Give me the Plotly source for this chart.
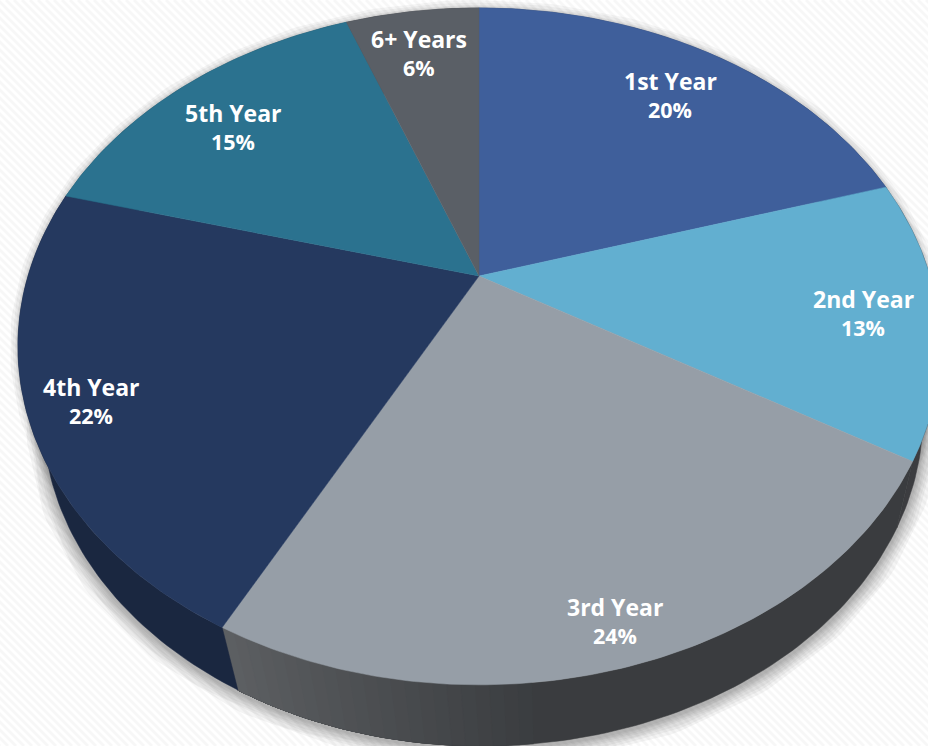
import numpy as np
import plotly.graph_objects as go

categories = ["1st Year", "2nd Year", "3rd Year", "4th Year", "5th Year", "6+ Years"]
values = [20.3, 13.25, 24.14, 21.5, 15.1, 5.71]
percent_labels = ["20%", "13%", "24%", "22%", "15%", "6%"]

top_colors = ["#3F5F9B", "#62AFD0", "#969EA7", "#25395F", "#2B728F", "#5A5F66"]
wall_colors = ["#2b4068", "#3c3d40", "#3A3C3F", "#1A2740", "#1c4c60", "#3c4045"]

W, H = 928, 746
K = 0.208            # perspective of the tilted disc
TOP = dict(cx=479.0, ax=451.0, by=323.8, cy=276.0)
LOW = dict(cx=483.0, ax=430.4, by=316.0, cy=347.0)
LOW_TURN = np.radians(0.0)
label_anchor = [(670, 96), (863, 314), (615, 622), (91, 402), (233, 128), (419, 54)]


def rim(theta, p):
    s, c = np.sin(theta), np.cos(theta)
    d = 1 + K * c
    return p["cx"] + p["ax"] * s / d, p["cy"] - p["by"] * c / d


def poly(x, y, color):
    return go.Scatter(x=list(x), y=list(y), mode="lines", fill="toself", fillcolor=color,
                      line=dict(color=color, width=0.5), hoverinfo="skip", showlegend=False)


def wall(a, b, color):
    t = np.linspace(a, b, max(4, int(np.degrees(b - a))))
    x1, y1 = rim(t, TOP)
    x2, y2 = rim(t[::-1] + LOW_TURN, LOW)
    return poly(np.r_[x1, x2, x1[0]], np.r_[y1, y2, y1[0]], color)


def mix(a, b, t):
    ca = [int(a[i:i + 2], 16) for i in (1, 3, 5)]
    cb = [int(b[i:i + 2], 16) for i in (1, 3, 5)]
    return "rgb(%d,%d,%d)" % tuple(round(u + (v - u) * t) for u, v in zip(ca, cb))


fig = go.Figure()

# striped page background
hx, hy = [], []
for x0 in np.arange(-H, W + 8, 8.0):
    hx += [x0, x0 + H, None]
    hy += [0, H, None]
fig.add_trace(go.Scatter(x=hx, y=hy, mode="lines", line=dict(color="#f7f7f7", width=2.8),
                         hoverinfo="skip", showlegend=False))

# soft shadow
circle = np.linspace(0, 2 * np.pi, 361)
lx, ly = rim(circle + LOW_TURN, LOW)
ux, uy = rim(circle, TOP)
for w in [34, 28, 23, 18, 14, 10, 7, 4]:
    fig.add_trace(go.Scatter(x=lx, y=ly + 2, mode="lines", line=dict(color="rgba(60,60,60,0.055)", width=w),
                             hoverinfo="skip", showlegend=False))
for w in [16, 11, 6, 4, 2]:
    fig.add_trace(go.Scatter(x=ux, y=uy, mode="lines", line=dict(color="rgba(60,60,60,0.05)", width=w),
                             hoverinfo="skip", showlegend=False))

edges = np.concatenate([[0], np.cumsum(values)]) / np.sum(values) * 2 * np.pi

# side walls; the 3rd slice's wall brightens towards its end, painted as overlapping layers
for i in range(len(values)):
    a, b = edges[i], edges[i + 1]
    fig.add_trace(wall(a, b, wall_colors[i]))
    if i == 2:
        start = a + 0.62 * (b - a)
        steps = np.linspace(start, b, 24)[:-1]
        for j, t0 in enumerate(steps):
            fig.add_trace(wall(t0, b, mix("#3A3C3F", "#5C5F62", (j + 1) / len(steps))))

# top faces
apex_x, apex_y = TOP["cx"], TOP["cy"]
for i in range(len(values)):
    t = np.linspace(edges[i], edges[i + 1], 120)
    x, y = rim(t, TOP)
    fig.add_trace(poly(np.r_[apex_x, x, apex_x], np.r_[apex_y, y, apex_y], top_colors[i]))

for cat, pct, (ax_, ay_) in zip(categories, percent_labels, label_anchor):
    fig.add_annotation(x=ax_, y=ay_ - 15, xref="x", yref="y", showarrow=False, align="center",
                       text=f"<b>{cat}</b>", font=dict(family="Open Sans", size=23, color="white"))
    fig.add_annotation(x=ax_, y=ay_ + 13.5, xref="x", yref="y", showarrow=False, align="center",
                       text=f"<b>{pct}</b>", font=dict(family="Open Sans", size=21.5, color="white"))

fig.update_layout(
    width=W, height=H, margin=dict(l=0, r=0, t=0, b=0), autosize=False,
    paper_bgcolor="white", plot_bgcolor="white", showlegend=False,
    xaxis=dict(range=[0, W], visible=False, fixedrange=True),
    yaxis=dict(range=[H, 0], visible=False, fixedrange=True),
)
fig.write_html("out.html", config={"displayModeBar": False},
               post_script="document.body.style.margin='0';document.body.style.overflow='hidden';")
